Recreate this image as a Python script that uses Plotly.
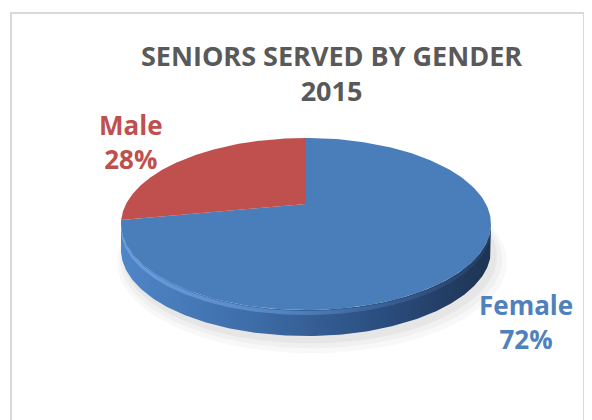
import numpy as np
import plotly.graph_objects as go

# ---- data ----
labels = ["Male", "Female"]
values = [28, 72]
colors = ["#C0504D", "#4A7EBB"]
label_colors = ["#C0504D", "#4F81BD"]
title_lines = ["SENIORS SERVED BY GENDER", "2015"]

# ---- 3D-like perspective geometry (pixel space) ----
U0, V0 = 306.0, 204.0     # projected centre of the pie
K = 0.2326                # perspective strength
B = 81.4                  # vertical scale
A = 185.0 * np.sqrt(1 - K**2)
T = 26.0                  # side thickness
OFF = 8                   # page body margin in the browser


def proj(theta_deg, r=1.0, dv=0.0):
    th = np.radians(theta_deg)
    x = -r * np.sin(th)
    z = -r * np.cos(th)
    w = 1 - K * z
    return U0 + A * x / w, V0 + B * z / w + dv


fig = go.Figure()

# soft shadow
for dx, dy, s, op in [(6, 10, 1.05, 0.05), (5, 8, 1.03, 0.06), (4, 6, 1.01, 0.08)]:
    th = np.linspace(0, 360, 241)
    u, v = proj(th, r=s, dv=T)
    fig.add_trace(go.Scatter(x=u + dx, y=v + dy, fill="toself", mode="lines",
                             line=dict(width=0), fillcolor=f"rgba(120,120,120,{op})",
                             hoverinfo="skip", showlegend=False))

# side wall (front half)
th_left = 180 - np.degrees(np.arccos(K))
th_right = 360 - th_left
th = np.linspace(th_left, th_right, 200)
ut, vt = proj(th)
ub, vb = proj(th, dv=T)
fig.add_trace(go.Scatter(
    x=np.concatenate([ut, ub[::-1]]), y=np.concatenate([vt, vb[::-1]]),
    fill="toself", mode="lines", line=dict(width=0),
    fillgradient=dict(type="horizontal",
                      colorscale=[[0, "#4F86C8"], [0.35, "#3E6DA8"], [0.7, "#2B4E80"], [1, "#1D3352"]]),
    hoverinfo="skip", showlegend=False))

# top face slices (Female clockwise from 12 o'clock, then Male)
total = sum(values)
order = [1, 0]
start = 360.0
for idx in order:
    span = 360.0 * values[idx] / total
    th = np.linspace(start, start - span, 200)
    u, v = proj(th)
    fig.add_trace(go.Scatter(
        x=np.concatenate([[U0], u, [U0]]), y=np.concatenate([[V0], v, [V0]]),
        fill="toself", mode="lines", line=dict(width=0), fillcolor=colors[idx],
        hoverinfo="skip", showlegend=False, name=labels[idx]))
    start -= span

# bevel highlight along the front rim
th = np.linspace(th_left, th_right, 200)
u1, v1 = proj(th, dv=1)
u2, v2 = proj(th, dv=5)
fig.add_trace(go.Scatter(
    x=np.concatenate([u1, u2[::-1]]), y=np.concatenate([v1, v2[::-1]]),
    fill="toself", mode="lines", line=dict(width=0),
    fillgradient=dict(type="horizontal",
                      colorscale=[[0, "rgba(110,160,225,0.9)"], [0.45, "rgba(100,150,215,0.6)"],
                                  [1, "rgba(40,70,110,0.5)"]]),
    hoverinfo="skip", showlegend=False))

# labels
pos = [(131, 141.5), (526, 321.5)]
for i in range(len(labels)):
    pct = round(100 * values[i] / total)
    fig.add_annotation(x=pos[i][0], y=pos[i][1], xref="x", yref="y",
                       text=f"<b>{labels[i]}<br>{pct}%</b>", showarrow=False,
                       font=dict(family="Open Sans", size=26, color=label_colors[i]))

fig.add_annotation(x=331, y=73, xref="x", yref="y",
                   text="<b>" + "<br>".join(title_lines) + "</b>", showarrow=False,
                   font=dict(family="Open Sans", size=27, color="#595959"))

fig.add_shape(type="rect", xref="x", yref="y", x0=11, y0=13, x1=584, y1=440,
              line=dict(color="#D9D9D9", width=2))

fig.update_layout(
    width=592 - OFF, height=420 - OFF, margin=dict(l=0, r=0, t=0, b=0),
    paper_bgcolor="white", plot_bgcolor="white",
    xaxis=dict(range=[OFF, 592], visible=False, fixedrange=True),
    yaxis=dict(range=[420, OFF], visible=False, fixedrange=True),
    showlegend=False,
)

fig.write_html("out.html")
